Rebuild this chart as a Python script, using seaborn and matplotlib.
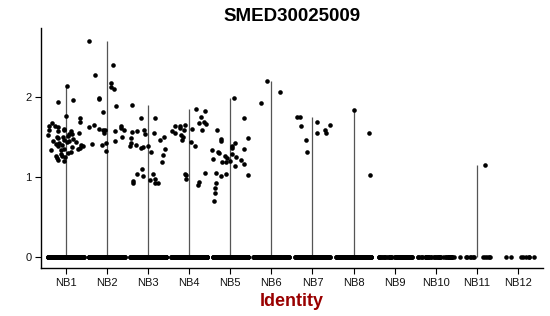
import numpy as np
import pandas as pd
import matplotlib
matplotlib.use("Agg")
import matplotlib.pyplot as plt
import seaborn as sns

categories = ["NB1", "NB2", "NB3", "NB4", "NB5", "NB6", "NB7", "NB8", "NB9", "NB10", "NB11", "NB12"]

# expression values of cells with non-zero expression, per cluster
nb1 = [2.13, 1.96, 1.94, 1.76, 1.74, 1.68, 1.67, 1.63, 1.63, 1.60, 1.59, 1.58, 1.57, 1.57,
       1.54, 1.53, 1.52, 1.51, 1.50, 1.50, 1.48, 1.47, 1.46, 1.45, 1.44, 1.43, 1.42, 1.41,
       1.40, 1.40, 1.38, 1.37, 1.36, 1.35, 1.34, 1.33, 1.31, 1.30, 1.28, 1.26, 1.26, 1.25,
       1.24, 1.21, 1.20, 1.55, 1.45, 1.38, 1.62, 1.35]
nb2 = [2.70, 2.40, 2.27, 2.17, 2.12, 2.10, 1.99, 1.97, 1.88, 1.81, 1.65, 1.63, 1.62, 1.61,
       1.60, 1.59, 1.58, 1.58, 1.57, 1.55, 1.50, 1.45, 1.42, 1.41, 1.40, 1.32]
nb3 = [1.90, 1.74, 1.74, 1.58, 1.57, 1.56, 1.55, 1.53, 1.50, 1.48, 1.46, 1.42, 1.40, 1.39,
       1.38, 1.37, 1.36, 1.35, 1.31, 1.27, 1.18, 1.10, 1.04, 1.03, 1.01, 0.97, 0.96, 0.95,
       0.93, 0.92, 0.93]
nb4 = [1.85, 1.82, 1.75, 1.68, 1.67, 1.66, 1.64, 1.63, 1.61, 1.60, 1.58, 1.57, 1.55, 1.52,
       1.50, 1.46, 1.43, 1.38, 1.59, 1.65, 1.05, 1.04, 1.02, 0.98, 0.94, 0.90]
nb5 = [1.99, 1.74, 1.58, 1.49, 1.47, 1.45, 1.42, 1.38, 1.36, 1.35, 1.33, 1.31, 1.30, 1.28,
       1.26, 1.25, 1.23, 1.22, 1.21, 1.20, 1.19, 1.18, 1.16, 1.13, 1.05, 1.03, 1.02, 1.01,
       0.92, 0.86, 0.80, 0.70]
nb6 = [2.20, 2.06, 1.92]
nb7 = [1.75, 1.75, 1.68, 1.65, 1.63, 1.59, 1.55, 1.55, 1.46, 1.31]
nb8 = [1.84, 1.55, 1.02]
nb9 = []
nb10 = []
nb11 = [1.15]
nb12 = []
nonzero_values = [nb1, nb2, nb3, nb4, nb5, nb6, nb7, nb8, nb9, nb10, nb11, nb12]

# number of cells with zero expression, per cluster
zero_counts = [320, 300, 260, 260, 220, 120, 120, 100, 60, 45, 12, 8]

y_ticks = [0, 1, 2]
title = "SMED30025009"
x_title = "Identity"

rows = []
for cat, vals, nz in zip(categories, nonzero_values, zero_counts):
    for v in vals:
        rows.append((cat, v))
    for _ in range(nz):
        rows.append((cat, 0.0))
df = pd.DataFrame(rows, columns=["ident", "expr"])

sns.set_style("white")
plt.rcParams["font.family"] = ["Liberation Sans", "DejaVu Sans"]

fig = plt.figure(figsize=(5.5, 3.16), dpi=100)
ax = fig.add_axes([0.0745, 0.152, 0.9125, 0.759])

# violin outlines (degenerate: nearly all cells at zero) -> thin line from 0 to max
maxes = df.groupby("ident", sort=False)["expr"].max().reindex(categories)
for i, m in enumerate(maxes.values):
    if m > 0:
        ax.vlines(i, 0, m, color="#555555", lw=0.9, zorder=1)

np.random.seed(3)
sns.stripplot(data=df, x="ident", y="expr", order=categories, jitter=0.44,
              color="black", size=3.3, linewidth=0, ax=ax, zorder=2)

ax.set_xlim(-0.6, 11.6)
ax.set_ylim(-0.136, 2.856)
ax.set_yticks(y_ticks)
ax.set_yticklabels([str(t) for t in y_ticks])
ax.set_ylabel("")
ax.set_xlabel(x_title, fontsize=13, fontweight="bold", color="#990000", labelpad=4)
ax.set_title(title, fontsize=13.5, fontweight="bold", color="black", pad=5)

for s in ["top", "right"]:
    ax.spines[s].set_visible(False)
for s in ["left", "bottom"]:
    ax.spines[s].set_color("black")
    ax.spines[s].set_linewidth(1.0)
ax.tick_params(axis="both", which="both", length=4, width=0.8, color="black",
               labelsize=8, labelcolor="#111111", left=True, bottom=True, pad=3)

fig.savefig("out.png", dpi=100)
